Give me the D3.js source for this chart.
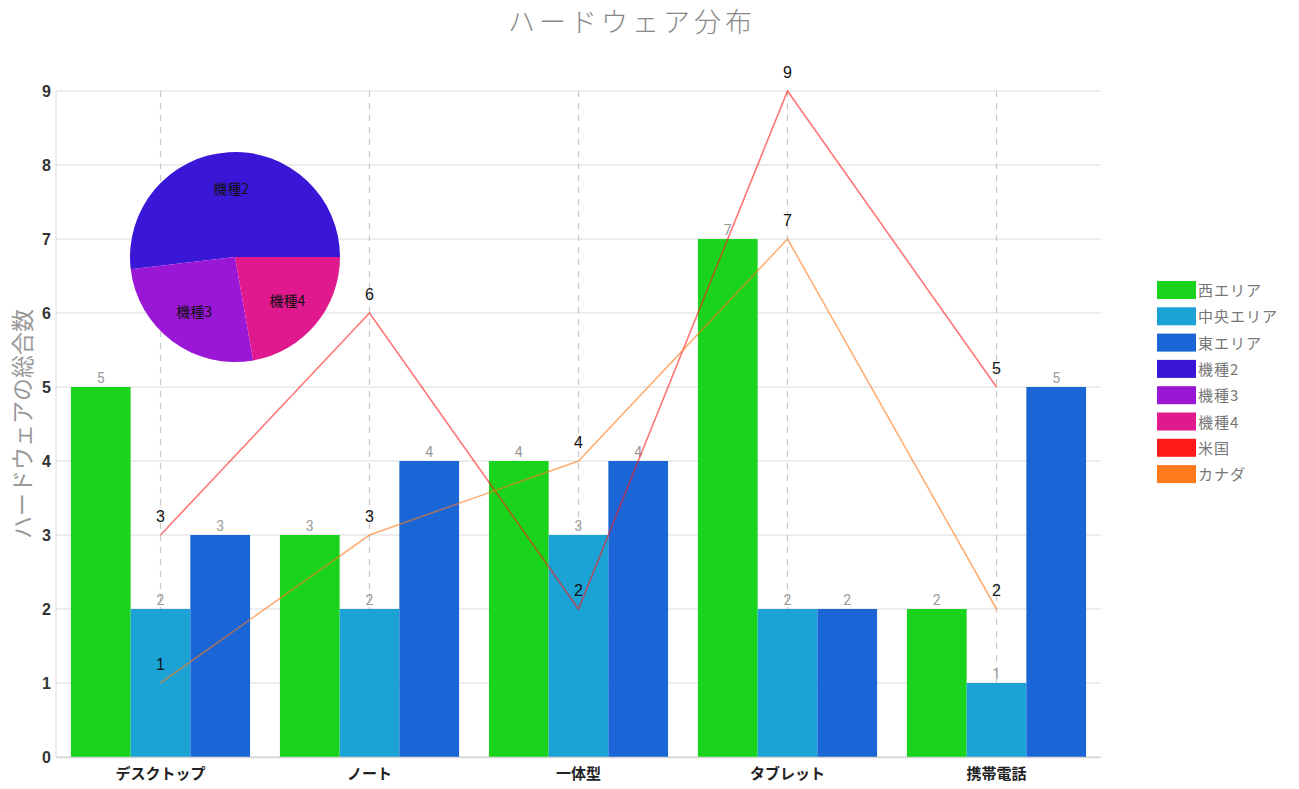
<!DOCTYPE html>
<html><head><meta charset="utf-8">
<script src="https://cdn.jsdelivr.net/npm/d3@7"></script>
<style>body{margin:0;background:#fff;}svg{display:block;}</style>
</head><body>
<svg id="c" width="1299" height="789"></svg>
<script>
const categories = ["デスクトップ","ノート","一体型","タブレット","携帯電話"];
const barSeries = ["西エリア","中央エリア","東エリア"];
const westValues = [5,3,4,7,2];
const centralValues = [2,2,3,2,1];
const eastValues = [3,4,4,2,5];
const pieLabels = ["機種2","機種3","機種4"];
const pieValues = [14,7,6];
const lineSeries = ["米国","カナダ"];
const usValues = [3,6,2,9,5];
const canadaValues = [1,3,4,7,2];
const yTicks = [0,1,2,3,4,5,6,7,8,9];
const titleText = "ハードウェア分布";
const yTitle = "ハードウェアの総合数";

(function(){
const barColors = ["#19d31c","#1ba3d6","#1a66d6"];
const pieColors = ["#3a17d6","#9a17d6","#e0198f"];
const lineColors = ["#ff1a1a","#ff7a1a"];

const svg = d3.select("#c");
const pLeft = 56, pRight = 1101, pTop = 91, pBottom = 757;
const x = d3.scaleBand().domain(categories).range([pLeft, pRight]);
const y = d3.scaleLinear().domain([0,9]).range([pBottom, pTop]);
const xs = d3.scaleBand().domain(barSeries).range([0, x.bandwidth()]).paddingOuter(0.25).paddingInner(0);

svg.append("g").selectAll("line").data(yTicks).join("line")
  .attr("x1", pLeft).attr("x2", pRight).attr("y1", d=>y(d)).attr("y2", d=>y(d))
  .attr("stroke", "#dcdcdc").attr("stroke-width", 1.2);
svg.append("g").selectAll("line").data(categories).join("line")
  .attr("x1", d=>x(d)+x.bandwidth()/2).attr("x2", d=>x(d)+x.bandwidth()/2)
  .attr("y1", pTop).attr("y2", pBottom)
  .attr("stroke", "#c8c8c8").attr("stroke-dasharray", "6,6").attr("stroke-width", 1.2);

svg.append("line").attr("x1", pLeft).attr("x2", pLeft).attr("y1", pTop).attr("y2", pBottom).attr("stroke","#dcdcdc");

const barData = [westValues, centralValues, eastValues];
barSeries.forEach((s, si) => {
  const g = svg.append("g");
  g.selectAll("rect").data(categories).join("rect")
    .attr("x", (d)=>x(d)+xs(s)).attr("width", xs.bandwidth())
    .attr("y", (d,i)=>y(barData[si][i])).attr("height", (d,i)=>pBottom - y(barData[si][i]))
    .attr("fill", barColors[si]);
  g.selectAll("text").data(categories).join("text")
    .attr("x", (d)=>x(d)+xs(s)+xs.bandwidth()/2).attr("y", (d,i)=>y(barData[si][i])-4)
    .attr("text-anchor","middle").attr("font-family","Roboto, 'Noto Sans', sans-serif")
    .attr("font-size", 14).attr("fill", "#999").text((d,i)=>barData[si][i]);
});

svg.append("line").attr("x1", pLeft).attr("x2", pRight).attr("y1", pBottom+0.5).attr("y2", pBottom+0.5).attr("stroke","#d6d6d6").attr("stroke-width",1.5);
svg.append("g").selectAll("text").data(categories).join("text")
  .attr("x", d=>x(d)+x.bandwidth()/2).attr("y", 779)
  .attr("text-anchor","middle").attr("font-family","'Noto Sans CJK JP', sans-serif")
  .attr("font-size", 15).attr("font-weight","bold").attr("fill","#222").text(d=>d);

svg.append("g").selectAll("text").data(yTicks).join("text")
  .attr("x", 51).attr("y", d=>y(d)+6)
  .attr("text-anchor","end").attr("font-family","'Liberation Sans', Arial, sans-serif")
  .attr("font-size", 16).attr("font-weight","bold").attr("fill","#333").text(d=>d);

svg.append("text").attr("transform", `translate(31,${(pTop+pBottom)/2}) rotate(-90)`)
  .attr("text-anchor","middle").attr("font-family","'Noto Sans CJK JP', sans-serif")
  .attr("font-size", 23).attr("fill","#999").text(yTitle);

svg.append("text").attr("x", 632).attr("y", 32).attr("text-anchor","middle")
  .attr("font-family","'Noto Sans CJK JP', sans-serif").attr("font-weight", 300)
  .attr("font-size", 27).attr("letter-spacing", 4).attr("fill","#888").text(titleText);

const lineData = [usValues, canadaValues];
const lineGen = d3.line().x((d,i)=>x(categories[i])+x.bandwidth()/2).y(d=>y(d));
lineSeries.forEach((s, si) => {
  svg.append("path").datum(lineData[si]).attr("d", lineGen)
    .attr("fill","none").attr("stroke", lineColors[si]).attr("stroke-opacity", 0.6).attr("stroke-width", 1.6);
  svg.append("g").selectAll("text").data(lineData[si]).join("text")
    .attr("x", (d,i)=>x(categories[i])+x.bandwidth()/2).attr("y", d=>y(d)-13)
    .attr("text-anchor","middle").attr("font-family","'Liberation Sans', Arial, sans-serif")
    .attr("font-size", 16).attr("fill","#111").text(d=>d);
});

const pcx = 235, pcy = 257, pr = 105;
const pie = d3.pie().sort(null).startAngle(Math.PI/2).endAngle(Math.PI/2 - 2*Math.PI);
const arcs = pie(pieValues);
const arc = d3.arc().innerRadius(0).outerRadius(pr);
const labelArc = d3.arc().innerRadius(pr*0.65).outerRadius(pr*0.65);
const pg = svg.append("g").attr("transform", `translate(${pcx},${pcy})`);
pg.selectAll("path").data(arcs).join("path").attr("d", arc).attr("fill", (d,i)=>pieColors[i]);
pg.selectAll("text").data(arcs).join("text")
  .attr("transform", d=>`translate(${labelArc.centroid(d)})`)
  .attr("text-anchor","middle").attr("dy","0.35em")
  .attr("font-family","'Noto Sans CJK JP', serif").attr("font-size", 14).attr("fill","#111")
  .text((d,i)=>pieLabels[i]);

const legendItems = barSeries.concat(pieLabels, lineSeries);
const legendColors = barColors.concat(pieColors, lineColors);
const lg = svg.append("g").attr("transform","translate(1157,281)");
const row = lg.selectAll("g").data(legendItems).join("g").attr("transform",(d,i)=>`translate(0,${i*26.3})`);
row.append("rect").attr("width", 39).attr("height", 18).attr("fill",(d,i)=>legendColors[i]);
row.append("text").attr("x", 41).attr("y", 15).attr("font-family","'Noto Sans CJK JP', serif")
  .attr("font-size", 15).attr("fill","#777").attr("letter-spacing",1).text(d=>d);
})();
</script>
</body></html>
